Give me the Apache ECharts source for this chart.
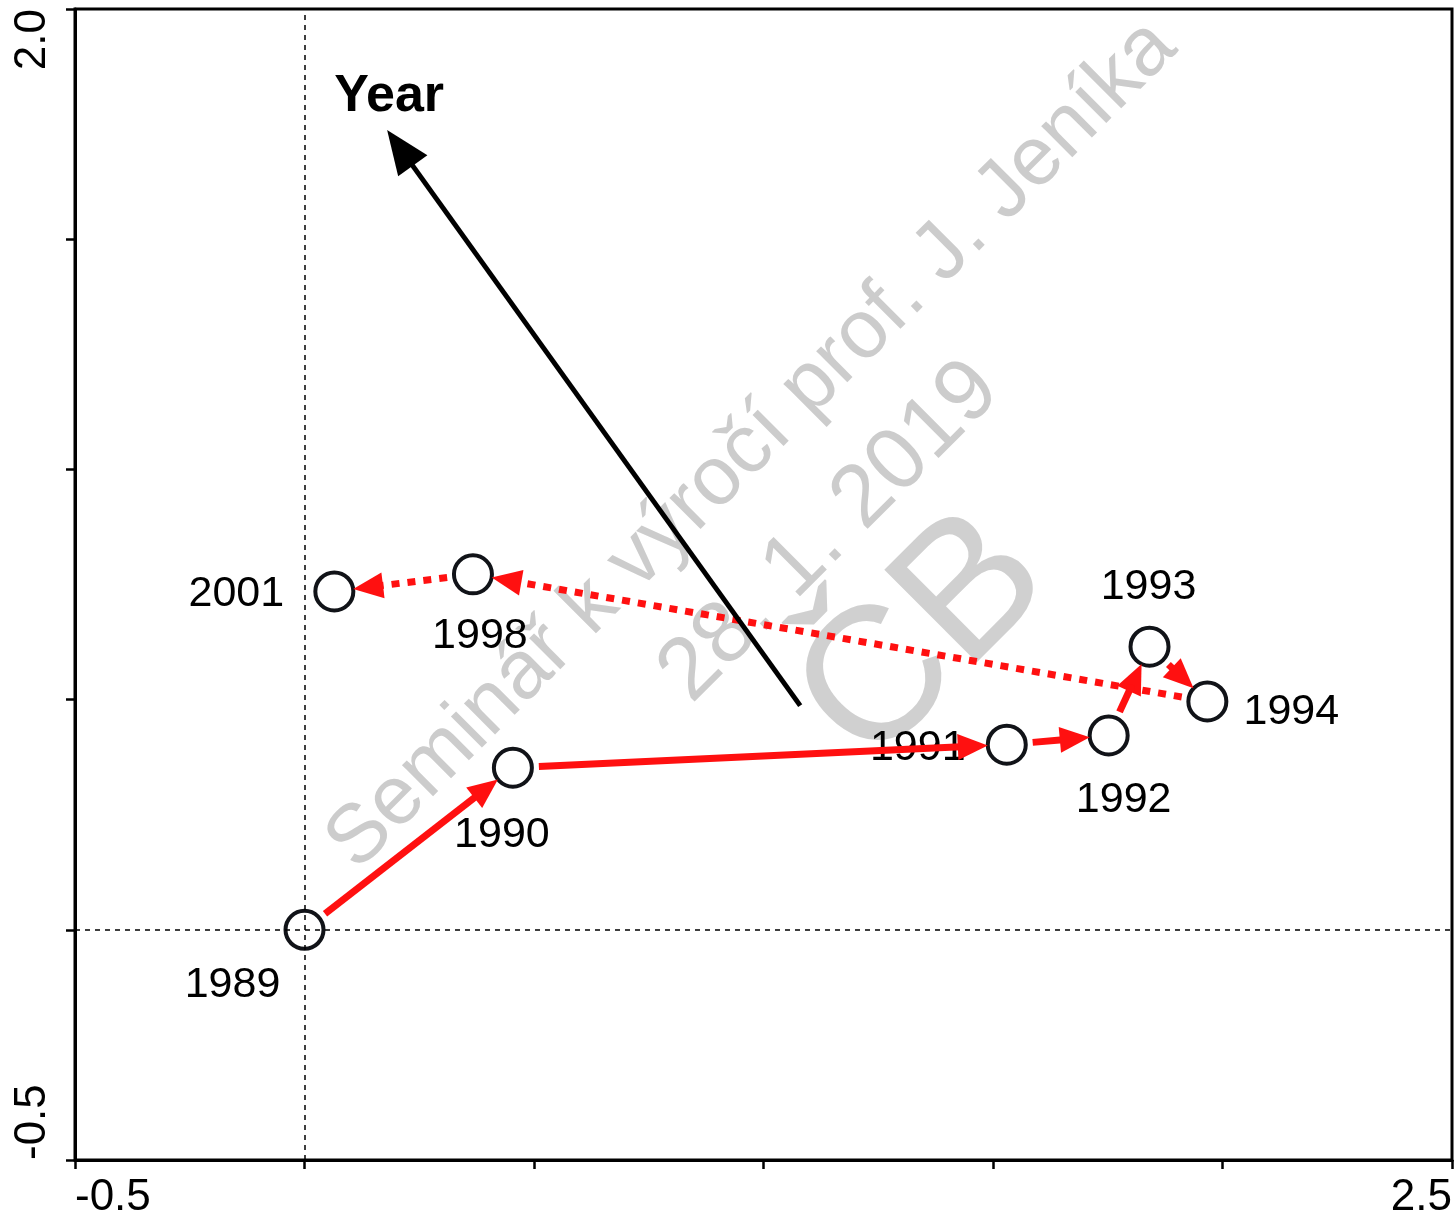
<!DOCTYPE html>
<html>
<head>
<meta charset="utf-8">
<script src="https://cdn.jsdelivr.net/npm/echarts@6/dist/echarts.min.js"></script>
<style>
html,body{margin:0;padding:0;background:#fff;}
#main{width:1455px;height:1224px;}
</style>
</head>
<body>
<div id="main"></div>
<script>
// ---------- data ----------
const years = ['1989', '1990', '1991', '1992', '1993', '1994', '1998', '2001'];
const axis1 = [0.000, 0.454, 1.530, 1.752, 1.841, 1.967, 0.367, 0.065];
const axis2 = [0.000, 0.352, 0.402, 0.422, 0.615, 0.496, 0.772, 0.735];
// trajectory: consecutive samples, kind of connector
const stepKind = ['solid', 'solid', 'solid', 'solid', 'dotted', 'dotted', 'dotted'];
// environmental variable arrow (tail -> head)
const envName = 'Year';
const envTail = [1.080, 0.487];
const envHead = [0.180, 1.737];
const xTickLabels = ['-0.5', '2.5'];
const yTickLabels = ['-0.5', '2.0'];

// ---------- styling (not data) ----------
const labelOffsets = {
  '1989': [-72, 55], '1990': [-11, 67], '1991': [-89, 3], '1992': [15, 65],
  '1993': [-1, -60], '1994': [84, 11], '1998': [7, 62], '2001': [-98, 3]
};
const FONT = 'Arial, "Liberation Sans", sans-serif';
const RED = '#ff1010';

const pointData = years.map((y, i) => ({
  value: [axis1[i], axis2[i], y],
  label: { offset: labelOffsets[y] }
}));

const segData = [];
for (let i = 0; i < stepKind.length; i++) {
  segData.push([axis1[i], axis2[i], axis1[i + 1], axis2[i + 1], stepKind[i] === 'dotted' ? 1 : 0]);
}

function arrow(p0, p1, startGap, endGap, headLen, headW, lineW, color, dash) {
  const dx = p1[0] - p0[0], dy = p1[1] - p0[1];
  const L = Math.hypot(dx, dy);
  const ux = dx / L, uy = dy / L, nx = -uy, ny = ux;
  const s = [p0[0] + ux * startGap, p0[1] + uy * startGap];
  const tip = [p1[0] - ux * endGap, p1[1] - uy * endGap];
  const base = [tip[0] - ux * headLen, tip[1] - uy * headLen];
  return [
    { type: 'line', shape: { x1: s[0], y1: s[1], x2: base[0] + ux * 3, y2: base[1] + uy * 3 },
      style: { stroke: color, lineWidth: lineW, lineDash: dash || null, lineCap: 'butt', opacity: 1 } },
    { type: 'polygon', shape: { points: [tip, [base[0] + nx * headW / 2, base[1] + ny * headW / 2], [base[0] - nx * headW / 2, base[1] - ny * headW / 2]] },
      style: { fill: color, opacity: 1 } }
  ];
}

const chart = echarts.init(document.getElementById('main'), null, { renderer: 'canvas' });

const wmColor = 'rgba(170,170,170,0.6)';
const option = {
  animation: false,
  backgroundColor: '#fff',
  graphic: [
    { type: 'text', z: -10, x: 752, y: 445, rotation: Math.PI / 4,
      style: { text: 'Seminář k výročí prof. J. Jeníka', font: '83px ' + FONT, fill: wmColor, align: 'center', verticalAlign: 'middle' } },
    { type: 'text', z: -10, x: 830, y: 532, rotation: Math.PI / 4,
      style: { text: '28. 1. 2019', font: '88px ' + FONT, fill: wmColor, align: 'center', verticalAlign: 'middle' } },
    { type: 'text', z: -10, x: 925, y: 640, rotation: Math.PI / 4,
      style: { text: 'ČB', font: '190px ' + FONT, fill: 'rgba(170,170,170,0.55)', align: 'center', verticalAlign: 'middle' } }
  ],
  grid: { left: 75, right: 2, top: 9, bottom: 64, show: true, borderColor: '#000', borderWidth: 3, backgroundColor: 'transparent' },
  xAxis: {
    type: 'value', min: -0.5, max: 2.5, interval: 0.5,
    axisLine: { show: true, onZero: false, lineStyle: { color: '#000', width: 3 } },
    axisTick: { show: true, inside: false, length: 9, lineStyle: { color: '#000', width: 2.5 } },
    splitLine: { show: false },
    axisLabel: {
      show: true, margin: 16, color: '#000', fontSize: 44, fontFamily: FONT,
      alignMinLabel: 'left', alignMaxLabel: 'right',
      formatter: v => { const t = v.toFixed(1); return xTickLabels.includes(t) ? t : ''; }
    }
  },
  yAxis: {
    type: 'value', min: -0.5, max: 2.0, interval: 0.5,
    axisLine: { show: true, onZero: false, lineStyle: { color: '#000', width: 3 } },
    axisTick: { show: true, inside: false, length: 9, lineStyle: { color: '#000', width: 2.5 } },
    splitLine: { show: false },
    axisLabel: {
      show: true, margin: 20, rotate: 90, color: '#000', fontSize: 44, fontFamily: FONT,
      alignMinLabel: 'left', alignMaxLabel: 'right',
      padding: [0, 0, 0, 0],
      formatter: v => { const t = v.toFixed(1); return yTickLabels.includes(t) ? t : ''; }
    }
  },
  series: [
    {
      type: 'scatter', z: 2,
      symbol: 'circle', symbolSize: 38,
      itemStyle: { color: 'rgba(255,255,255,0)', borderColor: '#111318', borderWidth: 4, opacity: 1 },
      label: { show: true, position: 'inside', formatter: p => p.value[2], color: '#000', opacity: 1, fontSize: 43, fontFamily: FONT },
      emphasis: { disabled: true },
      data: pointData,
      markLine: {
        silent: true, symbol: 'none', animation: false,
        label: { show: false },
        lineStyle: { color: '#000', width: 1.5, type: [5, 5], opacity: 1 },
        data: [{ xAxis: 0 }, { yAxis: 0 }]
      }
    },
    {
      type: 'custom', z: 3, coordinateSystem: 'cartesian2d',
      encode: { x: [0, 2], y: [1, 3] },
      data: segData,
      renderItem: (params, api) => {
        const p0 = api.coord([api.value(0), api.value(1)]);
        const p1 = api.coord([api.value(2), api.value(3)]);
        const dotted = api.value(4) === 1;
        return { type: 'group', children: arrow(p0, p1, 26, 19, 30, 26, 7, RED, dotted ? [8, 8] : null) };
      }
    },
    {
      type: 'custom', z: 4, coordinateSystem: 'cartesian2d',
      encode: { x: [0, 2], y: [1, 3] },
      data: [[envTail[0], envTail[1], envHead[0], envHead[1]]],
      renderItem: (params, api) => {
        const p0 = api.coord([api.value(0), api.value(1)]);
        const p1 = api.coord([api.value(2), api.value(3)]);
        const ch = arrow(p0, p1, 0, 0, 44, 36, 5, '#000', null);
        ch.push({ type: 'text', x: p1[0] + 2, y: p1[1] - 33,
          style: { text: envName, font: 'bold 52px ' + FONT, fill: '#000', align: 'center', verticalAlign: 'middle' } });
        return { type: 'group', children: ch };
      }
    }
  ]
};
chart.setOption(option);
</script>
</body>
</html>
